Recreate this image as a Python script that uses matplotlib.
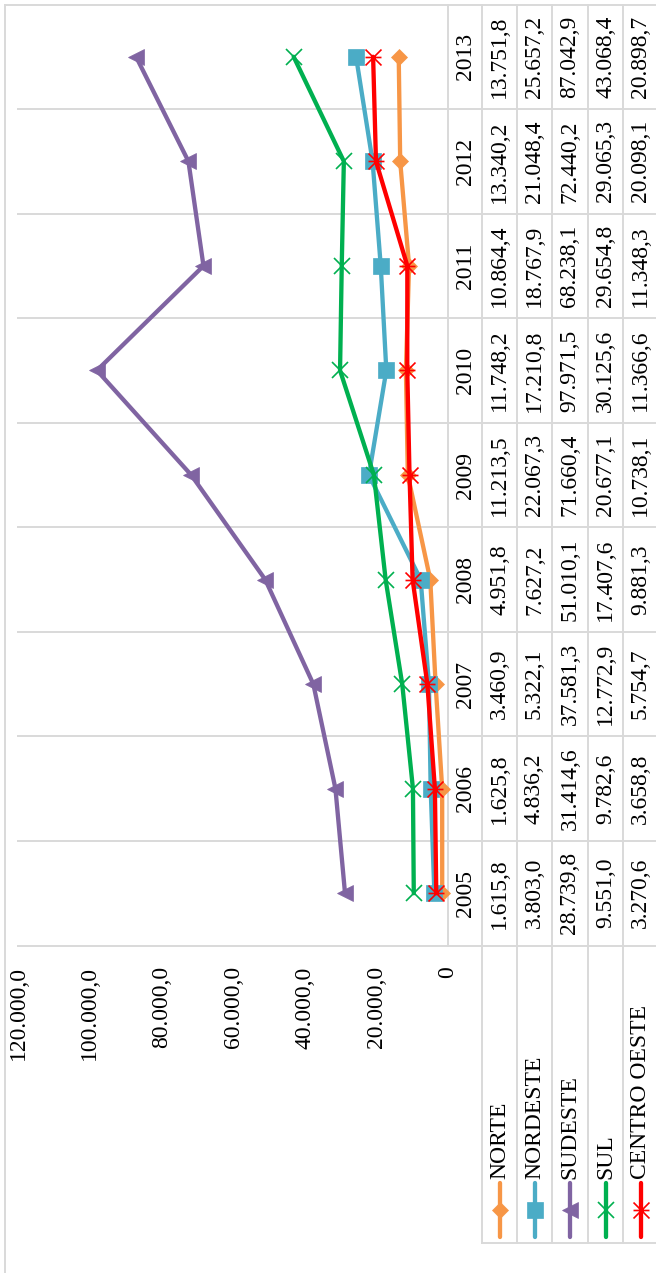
import numpy as np
import matplotlib
matplotlib.use("Agg")
import matplotlib.pyplot as plt
from matplotlib.path import Path
from matplotlib.transforms import blended_transform_factory

# ---- data -------------------------------------------------------------
years = ["2005", "2006", "2007", "2008", "2009", "2010", "2011", "2012", "2013"]
regions = ["NORTE", "NORDESTE", "SUDESTE", "SUL", "CENTRO OESTE"]

norte = [1615.8, 1625.8, 3460.9, 4951.8, 11213.5, 11748.2, 10864.4, 13340.2, 13751.8]
nordeste = [3803.0, 4836.2, 5322.1, 7627.2, 22067.3, 17210.8, 18767.9, 21048.4, 25657.2]
sudeste = [28739.8, 31414.6, 37581.3, 51010.1, 71660.4, 97971.5, 68238.1, 72440.2, 87042.9]
sul = [9551.0, 9782.6, 12772.9, 17407.6, 20677.1, 30125.6, 29654.8, 29065.3, 43068.4]
centro_oeste = [3270.6, 3658.8, 5754.7, 9881.3, 10738.1, 11366.6, 11348.3, 20098.1, 20898.7]

value_ticks = [0, 20000, 40000, 60000, 80000, 100000, 120000]

series = [norte, nordeste, sudeste, sul, centro_oeste]
colors = ["#F79646", "#4BACC6", "#8064A2", "#00B050", "#FF0000"]


def br(v):
    """Brazilian number format: 12.345,6"""
    if v == 0:
        return "0"
    s = f"{v:,.1f}"
    return s.replace(",", "#").replace(".", ",").replace("#", ".")


# asterisk marker: an x crossed by a horizontal bar
asterisk = Path(
    [(-0.5, -0.5), (0.5, 0.5), (-0.5, 0.5), (0.5, -0.5), (-0.5, 0.0), (0.5, 0.0)],
    [Path.MOVETO, Path.LINETO, Path.MOVETO, Path.LINETO, Path.MOVETO, Path.LINETO],
)

styles = [
    dict(marker="D", ms=8.6, mew=0.5),
    dict(marker="s", ms=11.5, mew=0.5),
    dict(marker="<", ms=12, mew=0.5),
    dict(marker="x", ms=11.5, mew=1.2),
    dict(marker=asterisk, ms=11.5, mew=1.2),
]

# ---- figure / layout (pixel units) -------------------------------------
W, H, DPI = 656, 1273, 100
plt.rcParams["font.family"] = ["Liberation Serif", "DejaVu Serif"]
FS = 17
GRID = "#D9D9D9"
GLW = 1.4
LW = 3.1

fig = plt.figure(figsize=(W / DPI, H / DPI), dpi=DPI)
fig.patch.set_facecolor("white")

PL, PR = 18, 448        # plot area left / right
PT, PB = 4.5, 945.5     # plot area top / bottom
row_edges = [448, 482, 517, 552, 588, 623, 658]
LEG_TOP, LEG_BOT = PB, 1243


def fx(px):
    return px / W


def fy(py):
    return 1 - py / H


frame = fig.add_axes([0, 0, 1, 1], zorder=0)
frame.set_xlim(0, W)
frame.set_ylim(H, 0)
frame.axis("off")

ax = fig.add_axes([fx(PL), fy(PB), fx(PR) - fx(PL), fy(PT) - fy(PB)], zorder=1)
ax.patch.set_visible(False)
ax.set_xlim(120000, 0)
ax.set_ylim(-0.5, len(years) - 0.5)
for sp in ax.spines.values():
    sp.set_visible(False)
ax.set_yticks([])
ax.set_xticks(value_ticks)
ax.set_xticklabels([br(v) for v in value_ticks], rotation=90, fontsize=FS)
ax.tick_params(axis="x", length=0, pad=15)

blend = blended_transform_factory(frame.transData, ax.transData)

# ---- lines and markers -------------------------------------------------
ypos = np.arange(len(years))
for k, (vals, col, st) in enumerate(zip(series, colors, styles)):
    ax.plot(vals, ypos, color=col, lw=LW, marker=st["marker"], ms=st["ms"],
            mfc=col, mec=col, mew=st["mew"], solid_joinstyle="round",
            solid_capstyle="round", zorder=2 + k, clip_on=False)

# ---- category gridlines / table grid -----------------------------------
bounds = np.arange(-0.5, len(years))
for b in bounds[:-1]:
    frame.plot([PL, W + 2], [b, b], transform=blend, color=GRID, lw=GLW, zorder=1)
for xe in row_edges[:-1]:
    frame.plot([xe, xe], [-0.5, len(years) - 0.5], transform=blend,
               color=GRID, lw=GLW, zorder=1)
for xe in row_edges[1:]:
    frame.plot([xe, xe], [LEG_TOP, LEG_BOT], color=GRID, lw=GLW, zorder=1)
frame.plot([row_edges[1], W + 2], [LEG_BOT, LEG_BOT], color=GRID, lw=GLW, zorder=1)

# chart border
frame.plot([5, 5], [PT, H + 2], color=GRID, lw=GLW, zorder=1)
frame.plot([5, W + 2], [PT, PT], color=GRID, lw=GLW, zorder=1)

# ---- table text ----------------------------------------------------------
for i, yr in enumerate(years):
    frame.text((row_edges[0] + row_edges[1]) / 2 + 0.5, i, yr, rotation=90,
               ha="center", va="center", fontsize=FS, transform=blend)
for r, vals in enumerate(series):
    cx = (row_edges[r + 1] + row_edges[r + 2]) / 2
    for i, v in enumerate(vals):
        frame.text(cx, i, br(v), rotation=90, ha="center", va="center",
                   fontsize=FS, transform=blend)

# ---- legend keys inside the table ----------------------------------------
for r, (name, col, st) in enumerate(zip(regions, colors, styles)):
    cx = (row_edges[r + 1] + row_edges[r + 2]) / 2
    frame.plot([cx, cx], [1183, 1237], color=col, lw=LW,
               solid_capstyle="round", zorder=3)
    frame.plot([cx], [1210], linestyle="none", marker=st["marker"], ms=st["ms"],
               mfc=col, mec=col, mew=st["mew"], zorder=4)
    frame.text(cx, 1179, name, rotation=90, ha="center", va="bottom",
               fontsize=FS)

fig.savefig("out.png", dpi=DPI)
